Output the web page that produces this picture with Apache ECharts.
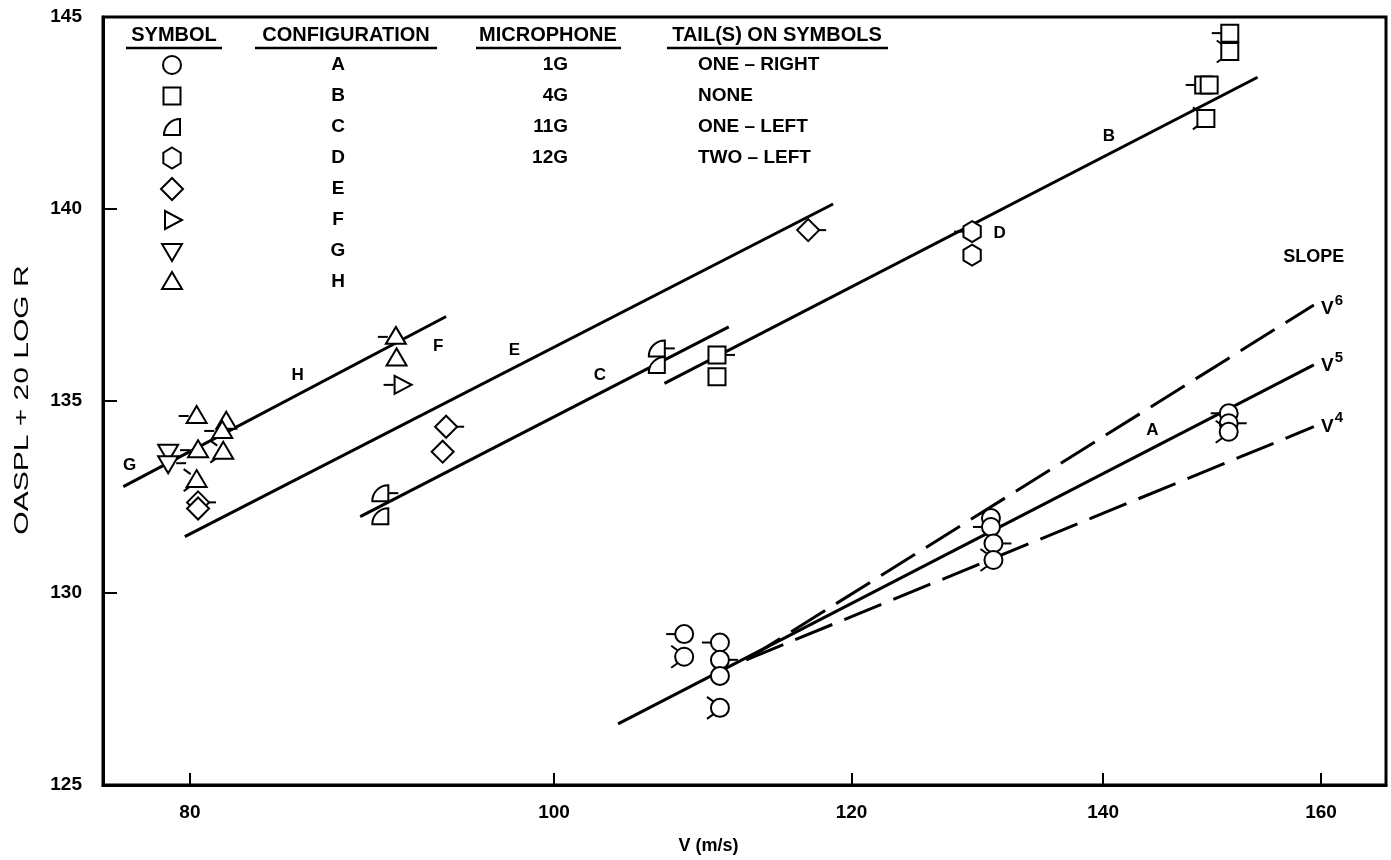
<!DOCTYPE html>
<html>
<head>
<meta charset="utf-8">
<script src="https://cdn.jsdelivr.net/npm/echarts@6/dist/echarts.min.js"></script>
<style>
html, body { margin: 0; padding: 0; background: #fff; }
#chart { width: 1391px; height: 860px; }
</style>
</head>
<body>
<div id="chart"></div>
<script>
const FONT = '"Liberation Sans", Arial, Helvetica, sans-serif';

// Axis ticks
const velocityTicks = [80, 100, 120, 140, 160];
const levelTicks = [125, 130, 135, 140, 145];

// Legend table
const configurations = ['A', 'B', 'C', 'D', 'E', 'F', 'G', 'H'];
const microphones = ['1G', '4G', '11G', '12G'];
const tailDescriptions = ['ONE \u2013 RIGHT', 'NONE', 'ONE \u2013 LEFT', 'TWO \u2013 LEFT'];

// Measured points: [V (m/s), OASPL + 20 LOG R (dB), microphone]
const pointsA = [
  [108.3, 128.93, '11G'], [108.3, 128.34, '12G'],
  [110.7, 128.71, '11G'], [110.7, 128.26, '1G'], [110.7, 127.84, '4G'], [110.7, 127.01, '12G'],
  [130.7, 131.95, '4G'], [130.7, 131.72, '11G'], [130.9, 131.29, '1G'], [130.9, 130.86, '12G'],
  [151.2, 134.68, '11G'], [151.2, 134.42, '1G'], [151.2, 134.20, '12G']
];
const pointsB = [
  [110.5, 136.20, '1G'], [110.5, 135.63, '4G'],
  [148.9, 143.23, '11G'], [149.4, 143.23, '4G'], [149.1, 142.36, '12G'],
  [151.3, 144.58, '11G'], [151.3, 144.10, '12G']
];
const pointsC = [
  [89.9, 132.60, '1G'], [89.9, 132.00, '4G'],
  [106.5, 136.37, '1G'], [106.5, 135.94, '4G']
];
const pointsD = [
  [129.2, 139.41, '11G'], [129.2, 138.80, '4G']
];
const pointsE = [
  [80.4, 132.36, '1G'], [80.4, 132.20, '4G'],
  [93.6, 134.33, '1G'], [93.4, 133.68, '4G'],
  [116.85, 139.45, '1G']
];
const pointsF = [
  [91.08, 135.42, '11G']
];
const pointsG = [
  [78.94, 133.68, '4G'], [78.94, 133.38, '1G']
];
const pointsH = [
  [80.33, 134.61, '11G'], [81.8, 134.46, '4G'], [81.6, 134.22, '11G'],
  [80.4, 133.72, '11G'], [81.65, 133.68, '12G'], [80.33, 132.94, '12G'],
  [90.76, 136.67, '11G'], [90.8, 136.11, '4G']
];

// Fitted lines: [V, level] end points
const lineH = [[76.8, 132.77], [93.6, 137.2]];
const lineE = [[79.75, 131.47], [118.65, 140.13]];
const lineC = [[88.8, 131.99], [111.3, 136.93]];
const lineB = [[107.0, 135.46], [153.9, 143.43]];
const lineA = [[104.0, 126.59], [159.3, 135.94]];
const slopeV6 = [[112.5, 128.26], [159.3, 137.50]];
const slopeV4 = [[112.5, 128.26], [159.3, 134.33]];

// Text placed in data coordinates
const lineLabels = [
  ['G', 77.1, 133.33], ['H', 85.46, 135.68], ['F', 93.15, 136.43],
  ['E', 97.6, 136.33], ['C', 102.85, 135.68], ['D', 131.4, 139.37],
  ['B', 140.5, 141.88], ['A', 144.3, 134.24]
];
const slopeTitle = ['SLOPE', 159.3, 138.76];
const slopeLabels = [['6', 160.0, 137.48], ['5', 160.0, 135.99], ['4', 160.0, 134.42]];

const yAxisTitle = 'OASPL + 20 LOG R';
const xAxisTitle = 'V (m/s)';

const symbolOf = { A: 'circle', B: 'square', C: 'quarter', D: 'hexagon', E: 'diamond', F: 'triRight', G: 'triDown', H: 'triUp' };
const pointSets = { A: pointsA, B: pointsB, C: pointsC, D: pointsD, E: pointsE, F: pointsF, G: pointsG, H: pointsH };
const tailOf = { '1G': 'right', '4G': 'none', '11G': 'left', '12G': 'twoLeft' };

const markStyle = { fill: '#fff', stroke: '#000', lineWidth: 2 };
const tailStyle = { stroke: '#000', lineWidth: 2 };

function markerShapes(kind, x, y) {
  switch (kind) {
    case 'circle':
      return [{ type: 'circle', shape: { cx: x, cy: y, r: 9 }, style: markStyle }];
    case 'square':
      return [{ type: 'rect', shape: { x: x - 8.5, y: y - 8.5, width: 17, height: 17 }, style: markStyle }];
    case 'quarter':
      return [{ type: 'sector', shape: { cx: x + 8, cy: y + 8, r0: 0, r: 16, startAngle: Math.PI, endAngle: Math.PI * 1.5, clockwise: true }, style: markStyle }];
    case 'hexagon': {
      const pts = [];
      for (let i = 0; i < 6; i++) {
        const a = -Math.PI / 2 + i * Math.PI / 3;
        pts.push([x + 10 * Math.cos(a), y + 10.5 * Math.sin(a)]);
      }
      return [{ type: 'polygon', shape: { points: pts }, style: markStyle }];
    }
    case 'diamond':
      return [{ type: 'polygon', shape: { points: [[x, y - 11], [x + 11, y], [x, y + 11], [x - 11, y]] }, style: markStyle }];
    case 'triRight':
      return [{ type: 'polygon', shape: { points: [[x - 7, y - 9], [x + 10, y], [x - 7, y + 9]] }, style: markStyle }];
    case 'triDown':
      return [{ type: 'polygon', shape: { points: [[x - 10, y - 7], [x + 10, y - 7], [x, y + 10]] }, style: markStyle }];
    case 'triUp':
      return [{ type: 'polygon', shape: { points: [[x, y - 10], [x + 10, y + 7], [x - 10, y + 7]] }, style: markStyle }];
  }
  return [];
}

function tailShapes(tail, x, y) {
  const hw = 9;
  const ln = (x1, y1, x2, y2) => ({ type: 'line', shape: { x1, y1, x2, y2 }, style: tailStyle });
  if (tail === 'right') return [ln(x + hw - 1, y, x + hw + 9, y)];
  if (tail === 'left') return [ln(x - hw + 1, y, x - hw - 9, y)];
  if (tail === 'twoLeft') return [
    ln(x - 6, y - 6, x - 13, y - 11),
    ln(x - 6, y + 6, x - 13, y + 11)
  ];
  return [];
}

const lineStyleSolid = { color: '#000', width: 3, cap: 'butt' };
const lineStyleDash = { color: '#000', width: 3, type: [40, 13], cap: 'butt' };

function lineSeries(data, style) {
  return {
    type: 'line', data: data, symbol: 'none', silent: true, z: 2,
    lineStyle: style, animation: false
  };
}

const series = [
  lineSeries(lineH, lineStyleSolid),
  lineSeries(lineE, lineStyleSolid),
  lineSeries(lineC, lineStyleSolid),
  lineSeries(lineB, lineStyleSolid),
  lineSeries(lineA, lineStyleSolid),
  lineSeries(slopeV6, lineStyleDash),
  lineSeries(slopeV4, lineStyleDash)
];

configurations.forEach(function (cfg) {
  const src = pointSets[cfg];
  const kind = symbolOf[cfg];
  series.push({
    type: 'custom', name: cfg, z: 5, animation: false, silent: true,
    data: src.map(p => [p[0], p[1]]),
    encode: { x: 0, y: 1 },
    renderItem: function (params, api) {
      const c = api.coord([api.value(0), api.value(1)]);
      const mic = src[params.dataIndex][2];
      return {
        type: 'group',
        children: tailShapes(tailOf[mic], c[0], c[1]).concat(markerShapes(kind, c[0], c[1]))
      };
    }
  });
});

const annotations = lineLabels.concat([slopeTitle]);
series.push({
  type: 'custom', z: 6, animation: false, silent: true,
  data: annotations.map(l => [l[1], l[2]]),
  encode: { x: 0, y: 1 },
  renderItem: function (params, api) {
    const c = api.coord([api.value(0), api.value(1)]);
    const label = annotations[params.dataIndex][0];
    const size = label === 'SLOPE' ? 18 : 17;
    return {
      type: 'text', x: c[0], y: c[1],
      style: { text: label, font: 'bold ' + size + 'px ' + FONT, fill: '#000', align: 'center', verticalAlign: 'middle', textAlign: 'center', textVerticalAlign: 'middle' }
    };
  }
});

series.push({
  type: 'custom', z: 6, animation: false, silent: true,
  data: slopeLabels.map(l => [l[1], l[2]]),
  encode: { x: 0, y: 1 },
  renderItem: function (params, api) {
    const c = api.coord([api.value(0), api.value(1)]);
    return {
      type: 'text', x: c[0], y: c[1],
      style: {
        text: '{v|V}{s|' + slopeLabels[params.dataIndex][0] + '}',
        align: 'left', verticalAlign: 'middle', textAlign: 'left', textVerticalAlign: 'middle',
        rich: {
          v: { font: 'bold 19px ' + FONT, fill: '#000', verticalAlign: 'bottom' },
          s: { font: 'bold 15px ' + FONT, fill: '#000', verticalAlign: 'top', padding: [0, 0, 10, 1] }
        }
      }
    };
  }
});

// Legend table drawn as graphic elements
const legendRows = [65, 96, 127, 158, 189, 220, 251, 282];
const headerY = 35;
const headerFont = 'bold 20px ' + FONT;
const rowFont = 'bold 19px ' + FONT;

function txt(text, x, y, align, font) {
  return {
    type: 'text',
    style: { text: text, x: x, y: y, font: font, fill: '#000', textAlign: align, textVerticalAlign: 'middle', align: align, verticalAlign: 'middle' }
  };
}
function rule(x1, x2, y) {
  return { type: 'line', shape: { x1: x1, y1: y, x2: x2, y2: y }, style: { stroke: '#000', lineWidth: 2.5 } };
}

const legendChildren = [
  txt('SYMBOL', 174, headerY, 'center', headerFont),
  txt('CONFIGURATION', 346, headerY, 'center', headerFont),
  txt('MICROPHONE', 548, headerY, 'center', headerFont),
  txt('TAIL(S) ON SYMBOLS', 777, headerY, 'center', headerFont),
  rule(126, 222, 48), rule(255, 437, 48), rule(476, 621, 48), rule(667, 888, 48)
];
configurations.forEach(function (cfg, i) {
  markerShapes(symbolOf[cfg], 172, legendRows[i]).forEach(s => legendChildren.push(s));
  legendChildren.push(txt(cfg, 338, legendRows[i], 'center', rowFont));
});
microphones.forEach(function (m, i) {
  legendChildren.push(txt(m, 568, legendRows[i], 'right', rowFont));
  legendChildren.push(txt(tailDescriptions[i], 698, legendRows[i], 'left', rowFont));
});

// Vertical axis title, widely tracked like the typeset original
const yTitle = {
  type: 'text', x: 22, y: 400, rotation: Math.PI / 2, scaleX: 1.5,
  style: { text: yAxisTitle, font: '20px ' + FONT, fill: '#000', textAlign: 'center', textVerticalAlign: 'middle', align: 'center', verticalAlign: 'middle' }
};

const chart = echarts.init(document.getElementById('chart'), null, { renderer: 'canvas' });
chart.setOption({
  animation: false,
  backgroundColor: '#fff',
  grid: {
    left: 103, right: 5, top: 17, bottom: 75, outerBoundsMode: 'none', containLabel: false,
    show: true, borderColor: '#000', borderWidth: 3, backgroundColor: 'transparent'
  },
  xAxis: {
    type: 'log', logBase: 10, min: 75.85, max: 166.5,
    name: xAxisTitle, nameLocation: 'middle', nameGap: 52,
    nameTextStyle: { color: '#000', fontSize: 18, fontWeight: 'bold', fontFamily: FONT, padding: [0, 72, 0, 0] },
    axisLine: { lineStyle: { color: '#000', width: 3 } },
    axisTick: { show: true, inside: true, length: 12, lineStyle: { color: '#000', width: 2 }, customValues: velocityTicks },
    axisLabel: { color: '#000', fontSize: 19, fontWeight: 'bold', fontFamily: FONT, margin: 18, customValues: velocityTicks },
    splitLine: { show: false }, minorTick: { show: false }
  },
  yAxis: {
    type: 'value', min: 125, max: 145, interval: 5,
    axisLine: { show: true, lineStyle: { color: '#000', width: 3 } },
    axisTick: { show: true, inside: true, length: 14, lineStyle: { color: '#000', width: 2 } },
    axisLabel: { color: '#000', fontSize: 19, fontWeight: 'bold', fontFamily: FONT, margin: 21, customValues: levelTicks },
    splitLine: { show: false }
  },
  graphic: [{ type: 'group', children: legendChildren.concat([yTitle]) }],
  series: series
});
</script>
</body>
</html>
